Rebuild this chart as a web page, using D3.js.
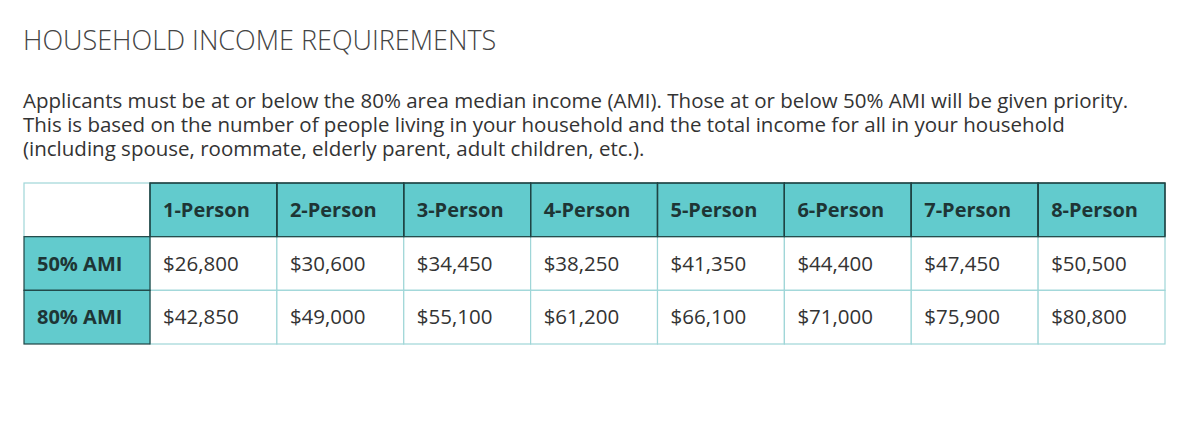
<!DOCTYPE html><html><head><meta charset="utf-8">
<script src="https://cdn.jsdelivr.net/npm/d3@7"></script>
<style>body{margin:0;background:#fff;font-family:"Open Sans",sans-serif;}</style></head><body>
<svg id="c" width="1200" height="442"></svg>
<script>
const title="HOUSEHOLD INCOME REQUIREMENTS";
const paragraph=["Applicants must be at or below the 80% area median income (AMI). Those at or below 50% AMI will be given priority.",
"This is based on the number of people living in your household and the total income for all in your household",
"(including spouse, roommate, elderly parent, adult children, etc.)."];
const categories=["1-Person","2-Person","3-Person","4-Person","5-Person","6-Person","7-Person","8-Person"];
const rowLabels=["50% AMI","80% AMI"];
const ami50=[26800,30600,34450,38250,41350,44400,47450,50500];
const ami80=[42850,49000,55100,61200,66100,71000,75900,80800];
const series=[ami50,ami80];
const svg=d3.select("#c");
const teal="#62cbcd", dark="#1f4444", light="#9fd6d8", txt="#333";
svg.append("text").attr("x",23).attr("y",50).attr("font-size",27).attr("font-weight",300).attr("fill","#444").text(title);
svg.selectAll("text.p").data(paragraph).join("text").attr("x",23).attr("y",(d,i)=>108+i*24).attr("font-size",20.5).attr("fill","#333").text(d=>d);
const firstW=126, colW=(1165-150)/8;
const colX=i=>i===0?24:150+(i-1)*colW;
const colWidth=i=>i===0?firstW:colW;
const y=d3.scaleBand().domain(["h",...rowLabels]).range([183,344]);
const g=svg.append("g");
const cols=["",...categories];
cols.forEach((c,i)=>{
  g.append("rect").attr("x",colX(i)).attr("y",y("h")).attr("width",colWidth(i)).attr("height",y.bandwidth()).attr("fill",i===0?"#fff":teal).attr("stroke",i===0?light:dark).attr("stroke-width",1.2);
  if(c) g.append("text").attr("x",colX(i)+13).attr("y",y("h")+y.bandwidth()/2+7).attr("font-size",20).attr("font-weight",700).attr("fill","#1e3535").text(c);
});
rowLabels.forEach((r,ri)=>{
  series[ri].forEach((v,ci)=>{
    const i=ci+1;
    g.append("rect").attr("x",colX(i)).attr("y",y(r)).attr("width",colW).attr("height",y.bandwidth()).attr("fill","#fff").attr("stroke",light).attr("stroke-width",1.2);
    g.append("text").attr("x",colX(i)+13).attr("y",y(r)+y.bandwidth()/2+7).attr("font-size",20.5).attr("fill",txt).text(d3.format("$,")(v));
  });
});
rowLabels.forEach(r=>{
  g.append("rect").attr("x",24).attr("y",y(r)).attr("width",firstW).attr("height",y.bandwidth()).attr("fill",teal).attr("stroke",dark).attr("stroke-width",1.2);
  g.append("text").attr("x",37).attr("y",y(r)+y.bandwidth()/2+7).attr("font-size",20).attr("font-weight",700).attr("fill","#1e3535").text(r);
});
cols.forEach((c,i)=>{ if(i>0) g.append("rect").attr("x",colX(i)).attr("y",y("h")).attr("width",colW).attr("height",y.bandwidth()).attr("fill","none").attr("stroke",dark).attr("stroke-width",1.2);});
</script></body></html>
